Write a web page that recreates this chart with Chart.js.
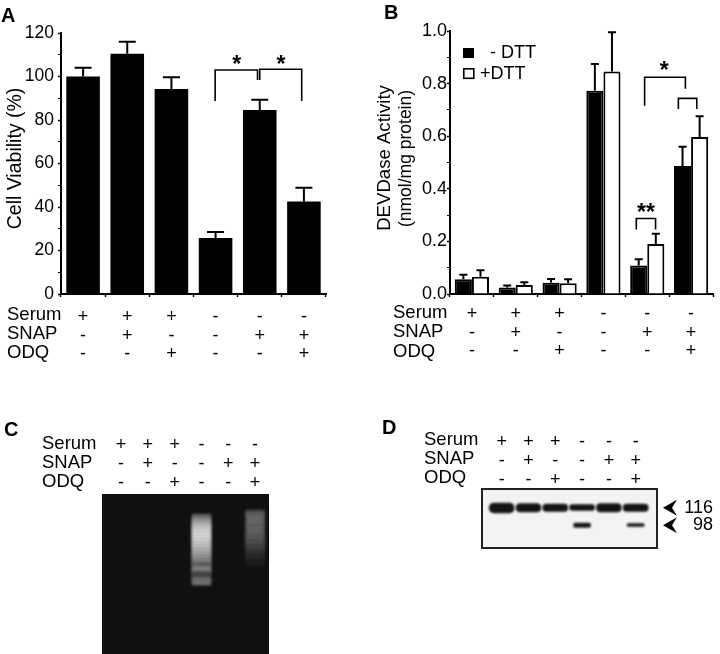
<!DOCTYPE html>
<html>
<head>
<meta charset="utf-8">
<title>Cell viability and DEVDase activity</title>
<script src="https://cdn.jsdelivr.net/npm/chart.js@4/dist/chart.umd.min.js"></script>
<style>
    body { margin: 0; background: #fff; }
    canvas { position: absolute; }
</style>
</head>
<body>
<canvas id="panelA" width="360" height="370" style="left:0;top:0"></canvas>
<canvas id="panelB" width="360" height="370" style="left:360px;top:0"></canvas>
<canvas id="panelC" width="360" height="244" style="left:0;top:410px"></canvas>
<canvas id="panelD" width="360" height="244" style="left:360px;top:410px"></canvas>
<script>
// 处理条件 (treatments, one column per lane)
const serum = ['+', '+', '+', '-', '-', '-'];
const snap = ['-', '+', '-', '-', '+', '+'];
const odq = ['-', '-', '+', '-', '-', '+'];
const rowNames = ['Serum', 'SNAP', 'ODQ'];
const laneLabels = serum.map((s, i) => [s, snap[i], odq[i]]);

// Panel A
const viability = [100, 110.5, 94.3, 25.7, 84.6, 42.5];
const viabilityErr = [4, 5.5, 5.3, 2.8, 4.7, 6.4];

// Panel B
const activityNoDtt = [0.056, 0.025, 0.043, 0.773, 0.108, 0.487];
const activityDtt = [0.066, 0.034, 0.041, 0.846, 0.19, 0.597];
const activityNoDttErr = [0.017, 0.007, 0.014, 0.102, 0.024, 0.073];
const activityDttErr = [0.024, 0.011, 0.015, 0.149, 0.039, 0.079];

// 显著性括号 (lane position, value)
const bracketsA = [
    [[2.99, 88.7], [2.99, 103], [3.95, 103], [3.95, 98.4]],
    [[4.0, 98.4], [4.0, 103.3], [4.95, 103.3], [4.95, 88.7]]
];
const starsA = [{ x: 3.48, y: 108, text: '*' }, { x: 4.48, y: 108, text: '*' }];
const bracketsB = [
    [[3.94, 0.716], [3.94, 0.824], [4.87, 0.824], [4.87, 0.78]],
    [[4.71, 0.703], [4.71, 0.744], [5.13, 0.744], [5.13, 0.703]],
    [[3.75, 0.245], [3.75, 0.287], [4.19, 0.287], [4.19, 0.245]]
];
const starsB = [{ x: 4.39, y: 0.87, text: '*' }, { x: 3.97, y: 0.33, text: '**' }];

// Panel C: gel smear, distance from the top of the gel and grey level
const ladderStart = [21, 23.7, 26.3, 29, 31.7, 34.3, 37.7, 41, 44.3, 47.7, 51, 54.3, 57.7, 61, 64.3, 67.7, 70, 72.7, 75.7, 78.3, 81, 83.7, 87];
const ladderEnd = [23.7, 26.3, 29, 31.7, 34.3, 37.7, 41, 44.3, 47.7, 51, 54.3, 57.7, 61, 64.3, 67.7, 70, 72.7, 75.7, 78.3, 81, 83.7, 87, 90.3];
const ladderGray = [100, 125, 155, 175, 195, 208, 215, 218, 212, 200, 190, 180, 165, 150, 135, 120, 85, 125, 130, 75, 60, 105, 115];
const smearStart = [16.7, 18.3, 21, 31, 41, 46, 51, 56, 61, 66];
const smearEnd = [18.3, 21, 31, 41, 46, 51, 56, 61, 66, 71];
const smearGray = [60, 90, 100, 95, 88, 78, 65, 50, 38, 28];

// Panel D: blot bands, distance from the top of the blot
const band116Lane = [0, 1, 2, 3, 4, 5];
const band116Start = [14, 14.5, 15, 15.5, 14.5, 15];
const band116End = [24, 23, 22.5, 21.5, 23, 22.5];
const band98Lane = [3, 5];
const band98Start = [34, 34.5];
const band98End = [38.5, 37.5];
const markerLabels = ['116', '98'];
const markerPositions = [18.7, 36.2];

const FONT = '"Liberation Sans", Arial, sans-serif';
Chart.defaults.font.family = FONT;
Chart.defaults.color = '#000';
Chart.defaults.animation = false;
Chart.defaults.plugins.legend.display = false;
Chart.defaults.plugins.tooltip.enabled = false;

function drawErrorBars(chart, datasetIndex, errors, capHalf) {
    const ctx = chart.ctx;
    const yScale = chart.scales.y;
    ctx.save();
    ctx.strokeStyle = '#000';
    ctx.lineWidth = 2;
    chart.getDatasetMeta(datasetIndex).data.forEach((bar, i) => {
        const value = chart.data.datasets[datasetIndex].data[i];
        const top = yScale.getPixelForValue(value + errors[i]);
        ctx.beginPath();
        ctx.moveTo(bar.x, bar.y);
        ctx.lineTo(bar.x, top);
        ctx.moveTo(bar.x - capHalf, top);
        ctx.lineTo(bar.x + capHalf, top);
        ctx.stroke();
    });
    ctx.restore();
}

function drawBrackets(chart, brackets, stars) {
    const ctx = chart.ctx;
    const { x, y } = chart.scales;
    ctx.save();
    ctx.strokeStyle = '#000';
    ctx.lineWidth = 1.6;
    brackets.forEach(points => {
        ctx.beginPath();
        points.forEach((p, i) => {
            const px = x.getPixelForValue(p[0]);
            const py = y.getPixelForValue(p[1]);
            if (i === 0) ctx.moveTo(px, py); else ctx.lineTo(px, py);
        });
        ctx.stroke();
    });
    ctx.fillStyle = '#000';
    ctx.font = 'bold 23px ' + FONT;
    ctx.textAlign = 'center';
    ctx.textBaseline = 'alphabetic';
    stars.forEach(s => {
        ctx.fillText(s.text, x.getPixelForValue(s.x), y.getPixelForValue(s.y) + 13);
    });
    ctx.restore();
}

// 旋转的坐标轴标题
function drawAxisTitle(chart, text, x, y, size) {
    const ctx = chart.ctx;
    ctx.save();
    ctx.translate(x, y);
    ctx.rotate(-Math.PI / 2);
    ctx.fillStyle = '#000';
    ctx.font = size + 'px ' + FONT;
    ctx.textAlign = 'center';
    ctx.textBaseline = 'middle';
    ctx.fillText(text, 0, 0);
    ctx.restore();
}

// 面板字母和行标题
function drawPanelText(chart, letter, letterX, letterY, rowX, rowY) {
    const ctx = chart.ctx;
    ctx.save();
    ctx.fillStyle = '#000';
    ctx.textBaseline = 'middle';
    ctx.textAlign = 'left';
    ctx.font = 'bold 20px ' + FONT;
    ctx.fillText(letter, letterX, letterY);
    ctx.font = '18.5px ' + FONT;
    rowNames.forEach((name, i) => ctx.fillText(name, rowX, rowY[i]));
    ctx.restore();
}

function barChartOptions(opts) {
    const isMajor = v => Math.round(v / opts.step) % 2 === 0;
    return {
        responsive: false,
        layout: { padding: opts.padding },
        scales: {
            x: {
                offset: true,
                afterFit: s => { s.height = 370 - 294; },
                border: { color: '#000', width: 2 },
                grid: { offset: true, drawOnChartArea: false, tickLength: 3, tickWidth: 1.5, tickColor: '#000' },
                ticks: { autoSkip: false, maxRotation: 0, padding: opts.xPad, font: { size: 18, lineHeight: 1.03 } }
            },
            y: {
                min: 0,
                max: opts.yMax,
                afterFit: s => { s.width = opts.yWidth; },
                border: { color: '#000', width: 2 },
                grid: {
                    drawOnChartArea: false,
                    tickLength: 3,
                    tickColor: '#000',
                    tickWidth: c => (isMajor(c.tick.value) ? 1.6 : 1)
                },
                ticks: {
                    stepSize: opts.step,
                    autoSkip: false,
                    padding: opts.yPad,
                    font: { size: opts.tickSize },
                    callback: v => (isMajor(v) ? v.toFixed(opts.decimals) : '')
                }
            }
        }
    };
}

// Panel A
new Chart(document.getElementById('panelA'), {
    type: 'bar',
    data: {
        labels: laneLabels,
        datasets: [{
            label: 'Cell Viability (%)',
            data: viability,
            backgroundColor: '#000',
            barPercentage: 0.76,
            categoryPercentage: 1
        }]
    },
    options: barChartOptions({
        yMax: 120, step: 10, decimals: 0, yWidth: 61, xPad: 11, yPad: 4, tickSize: 17.5,
        padding: { left: 0, right: 34, top: 33, bottom: 0 }
    }),
    plugins: [{
        id: 'panelAExtras',
        afterDraw(chart) {
            drawErrorBars(chart, 0, viabilityErr, 8.5);
            drawBrackets(chart, bracketsA, starsA);
            drawAxisTitle(chart, 'Cell Viability (%)', 16, 158.5, 19.5);
            drawPanelText(chart, 'A', 1, 16, 7, [315, 334, 353]);
        }
    }]
});

// Panel B
new Chart(document.getElementById('panelB'), {
    type: 'bar',
    data: {
        labels: laneLabels,
        datasets: [{
            label: '- DTT',
            data: activityNoDtt,
            backgroundColor: '#000',
            borderColor: '#000',
            borderWidth: 2,
            barPercentage: 1,
            categoryPercentage: 0.78
        }, {
            label: '+DTT',
            data: activityDtt,
            backgroundColor: '#fff',
            borderColor: '#000',
            borderWidth: 2,
            barPercentage: 1,
            categoryPercentage: 0.78
        }]
    },
    options: barChartOptions({
        yMax: 1, step: 0.1, decimals: 1, yWidth: 90, xPad: 8, yPad: 0, tickSize: 18,
        padding: { left: 0, right: 7, top: 31, bottom: 0 }
    }),
    plugins: [{
        id: 'panelBExtras',
        afterDraw(chart) {
            drawErrorBars(chart, 0, activityNoDttErr, 4);
            drawErrorBars(chart, 1, activityDttErr, 4);
            drawBrackets(chart, bracketsB, starsB);
            drawAxisTitle(chart, 'DEVDase Activity', 25, 158, 18.6);
            drawAxisTitle(chart, '(nmol/mg protein)', 46, 158.5, 17.5);
            drawPanelText(chart, 'B', 24, 13, 33, [313, 332, 352]);

            // 图例 (legend entries come from the datasets)
            const ctx = chart.ctx;
            ctx.save();
            ctx.font = '18px ' + FONT;
            ctx.textBaseline = 'middle';
            ctx.fillStyle = '#000';
            ctx.fillRect(103, 48, 11, 10);
            ctx.fillText(chart.data.datasets[0].label, 130, 53);
            ctx.lineWidth = 1.6;
            ctx.strokeRect(103.8, 68.8, 10, 9.5);
            ctx.fillText(chart.data.datasets[1].label, 120, 74);
            ctx.restore();
        }
    }]
});

// Gel and blot panels share one layout: lanes on a linear axis, labels above
function gelOptions(xMin, xMax, yMax, topHeight, tickPad, padding) {
    return {
        responsive: false,
        layout: { padding: padding },
        scales: {
            x: {
                type: 'linear',
                position: 'top',
                offset: false,
                min: xMin,
                max: xMax,
                afterFit: s => { s.height = topHeight; },
                border: { display: false },
                grid: { display: false },
                ticks: {
                    stepSize: 1,
                    includeBounds: false,
                    autoSkip: false,
                    maxRotation: 0,
                    padding: tickPad,
                    font: { size: 18, lineHeight: 1.05 },
                    callback: v => (Number.isInteger(v) && laneLabels[v] ? laneLabels[v] : '')
                }
            },
            y: { display: false, reverse: true, min: 0, max: yMax }
        }
    };
}

function blurBands(amount, background) {
    return {
        beforeDatasetsDraw(chart) {
            const { left, top, width, height } = chart.chartArea;
            chart.ctx.fillStyle = background;
            chart.ctx.fillRect(left, top, width, height);
            chart.ctx.save();
            chart.ctx.filter = 'blur(' + amount + 'px)';
        },
        afterDatasetsDraw(chart) {
            chart.ctx.restore();
        }
    };
}

function gray(levels) {
    return levels.map(g => 'rgb(' + g + ',' + g + ',' + g + ')');
}

// Panel C
new Chart(document.getElementById('panelC'), {
    type: 'bar',
    data: {
        datasets: [{
            label: 'Lane 4',
            data: ladderStart.map((s, i) => ({ x: 3, y: [s, ladderEnd[i]] })),
            backgroundColor: gray(ladderGray),
            inflateAmount: 1,
            barThickness: 17,
            grouped: false
        }, {
            label: 'Lane 6',
            data: smearStart.map((s, i) => ({ x: 5, y: [s, smearEnd[i]] })),
            backgroundColor: gray(smearGray),
            inflateAmount: 1,
            barThickness: 17,
            grouped: false
        }]
    },
    options: gelOptions(-0.71, 5.52, 160, 84, -6, { left: 102, right: 91, top: 0, bottom: 0 }),
    plugins: [Object.assign({ id: 'gelBackground' }, blurBands(1.8, '#101010')), {
        id: 'panelCExtras',
        afterDraw(chart) {
            drawPanelText(chart, 'C', 4, 20, 42, [34, 53, 72]);
        }
    }]
});

// Panel D
new Chart(document.getElementById('panelD'), {
    type: 'bar',
    data: {
        datasets: [{
            label: '116',
            data: band116Lane.map((l, i) => ({ x: l, y: [band116Start[i], band116End[i]] })),
            backgroundColor: '#141414',
            borderRadius: 5,
            borderSkipped: false,
            barThickness: 25,
            grouped: false
        }, {
            label: '98',
            data: band98Lane.map((l, i) => ({ x: l, y: [band98Start[i], band98End[i]] })),
            backgroundColor: '#181818',
            borderRadius: 2,
            borderSkipped: false,
            barThickness: 17,
            grouped: false
        }]
    },
    options: gelOptions(-0.735, 5.795, 59, 79, -8, { left: 122, right: 63, top: 0, bottom: 106 }),
    plugins: [Object.assign({ id: 'blotBackground' }, blurBands(1.2, '#f3f3f3')), {
        id: 'panelDExtras',
        afterDraw(chart) {
            const ctx = chart.ctx;
            const { left, top, width, height, right } = chart.chartArea;
            ctx.save();
            ctx.strokeStyle = '#222';
            ctx.lineWidth = 2;
            ctx.strokeRect(left, top, width, height);
            ctx.fillStyle = '#000';
            ctx.font = '18px ' + FONT;
            ctx.textAlign = 'right';
            ctx.textBaseline = 'middle';
            // 分子量标记 (arrows and marker sizes)
            markerPositions.forEach((m, i) => {
                const py = chart.scales.y.getPixelForValue(m);
                const tip = right + 6;
                ctx.beginPath();
                ctx.moveTo(tip, py);
                ctx.lineTo(tip + 14, py - 8);
                ctx.lineTo(tip + 9, py);
                ctx.lineTo(tip + 14, py + 8);
                ctx.closePath();
                ctx.fill();
                ctx.fillText(markerLabels[i], 353, py);
            });
            ctx.restore();
            drawPanelText(chart, 'D', 22, 18, 64, [30, 49, 68]);
        }
    }]
});
</script>
</body>
</html>
